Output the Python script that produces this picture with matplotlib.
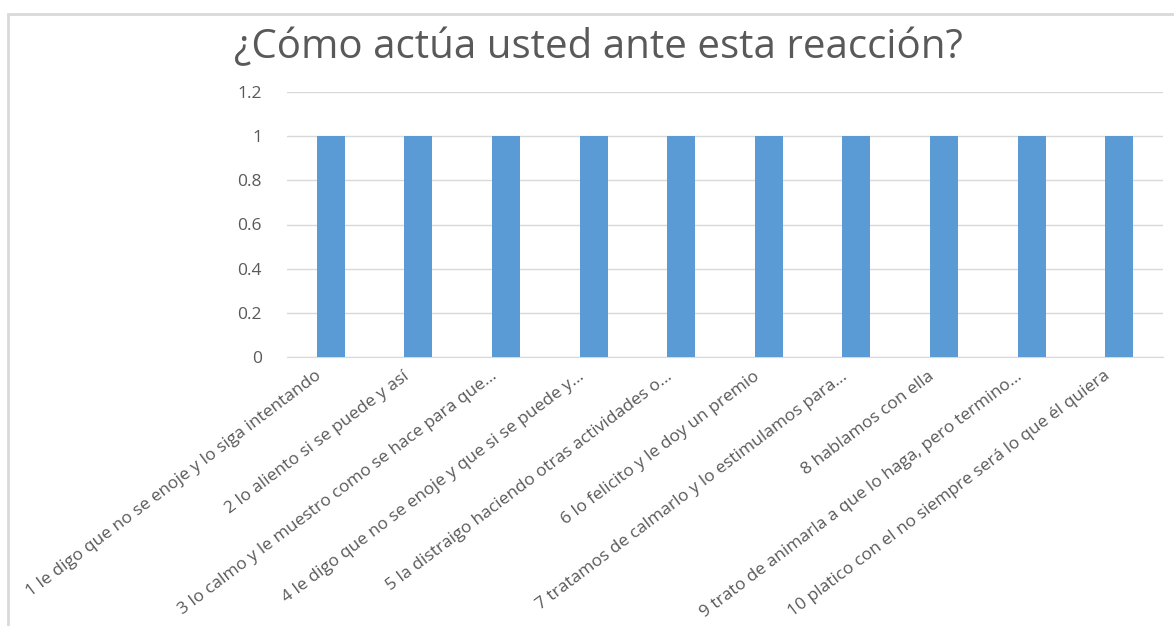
import matplotlib.pyplot as plt
from matplotlib.patches import Rectangle
from matplotlib.transforms import ScaledTranslation

# data
categorias = [
    "1 le digo que no se enoje y lo siga intentando",
    "2 lo aliento si se puede y así",
    "3 lo calmo y le muestro como se hace para que...",
    "4 le digo que no se enoje y que si se puede y...",
    "5 la distraigo haciendo otras actividades o...",
    "6 lo felicito y le doy un premio",
    "7 tratamos de calmarlo y lo estimulamos para...",
    "8 hablamos con ella",
    "9 trato de animarla a que lo haga, pero termino...",
    "10 platico con el no siempre será lo que él quiera",
]
valores = [1, 1, 1, 1, 1, 1, 1, 1, 1, 1]
y_ticks = [0, 0.2, 0.4, 0.6, 0.8, 1, 1.2]
y_tick_labels = ["0", "0.2", "0.4", "0.6", "0.8", "1", "1.2"]

plt.rcParams['font.family'] = ['Open Sans', 'DejaVu Sans']

W, H = 1174, 626
fig = plt.figure(figsize=(W / 100, H / 100), dpi=100)

# chart border (light gray, runs off the right and bottom edge)
fig.patches.append(Rectangle((8 / W, -0.05), 1.2, 1 - 14 / H + 0.05,
                             transform=fig.transFigure, fill=False,
                             edgecolor='#d9d9d9', linewidth=2))

ax = fig.add_axes([287 / W, 1 - 357 / H, (1163 - 287) / W, (357 - 92) / H])

x = range(len(categorias))
ax.bar(x, valores, width=0.32, color='#5b9bd5', zorder=3)

ax.set_xlim(-0.5, len(categorias) - 0.5)
ax.set_ylim(0, 1.2)
ax.set_yticks(y_ticks)
ax.set_yticklabels(y_tick_labels)
ax.set_xticks(list(x))
ax.set_xticklabels(categorias, rotation=37, rotation_mode='anchor',
                   ha='right', va='top')

ax.tick_params(axis='both', length=0, colors='#595959', labelsize=12.5)
ax.tick_params(axis='y', pad=18)
ax.tick_params(axis='x', pad=8)

# nudge rotated labels so their end sits under the bar
shift = ScaledTranslation(-0.16, 0, fig.dpi_scale_trans)
for lbl in ax.get_xticklabels():
    lbl.set_transform(lbl.get_transform() + shift)

ax.grid(axis='y', color='#d9d9d9', linewidth=1, zorder=0)
for s in ['top', 'right', 'left']:
    ax.spines[s].set_visible(False)
ax.spines['bottom'].set_color('#d9d9d9')

fig.text(598 / W, 1 - 48 / H, "¿Cómo actúa usted ante esta reacción?",
         ha='center', va='center', fontsize=29, color='#595959')

fig.savefig('out.png', dpi=100)
